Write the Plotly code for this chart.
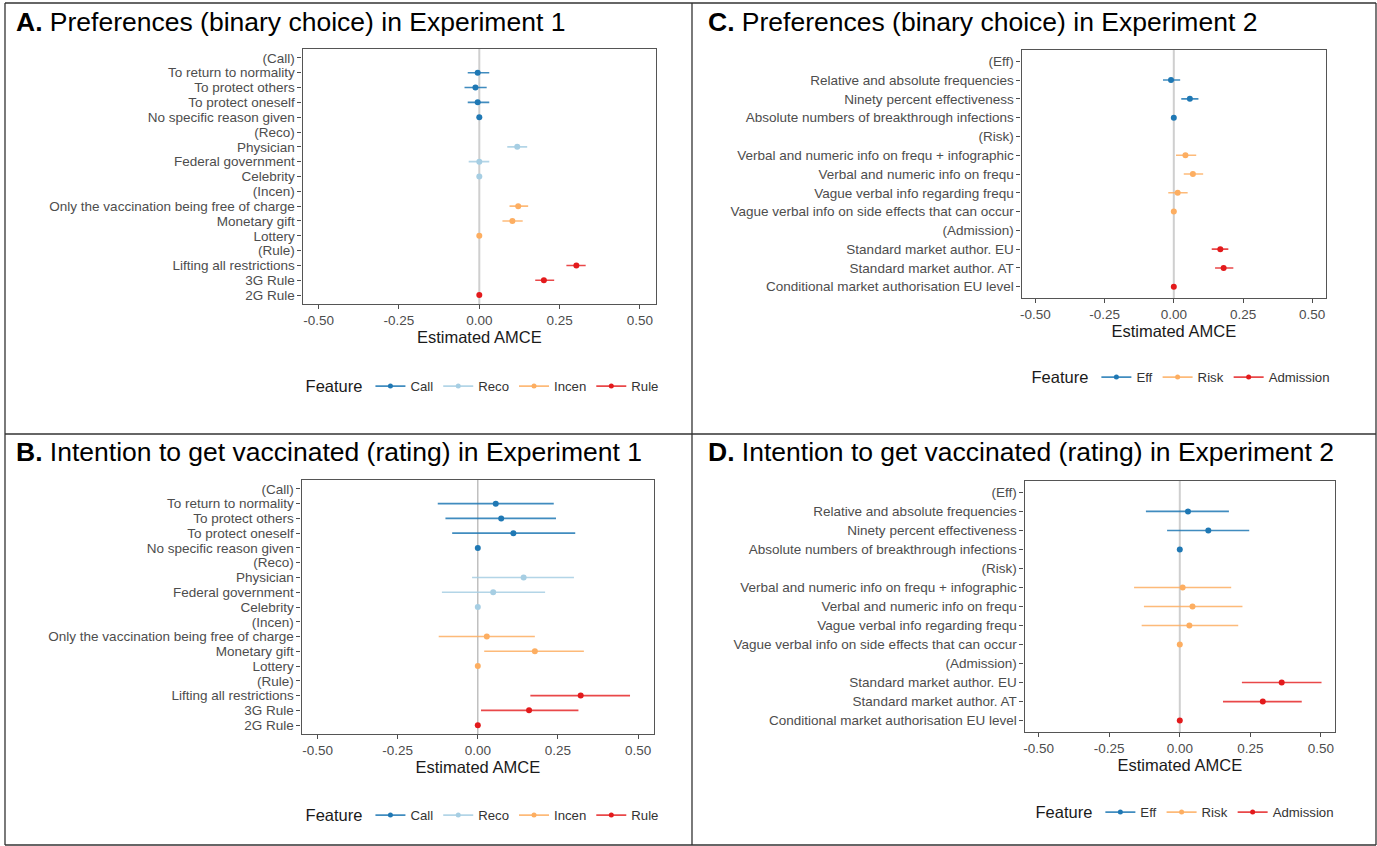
import plotly.graph_objects as go

W, H = 1377, 846

# ---------------- data ----------------
A_labels = ["(Call)", "To return to normality", "To protect others", "To protect oneself",
            "No specific reason given", "(Reco)", "Physician", "Federal government", "Celebrity",
            "(Incen)", "Only the vaccination being free of charge", "Monetary gift", "Lottery",
            "(Rule)", "Lifting all restrictions", "3G Rule", "2G Rule"]
A_feature = [None, "Call", "Call", "Call", "Call", None, "Reco", "Reco", "Reco",
             None, "Incen", "Incen", "Incen", None, "Rule", "Rule", "Rule"]
A_est = [None, -0.005, -0.012, -0.005, 0.0, None, 0.118, 0.0, 0.0,
         None, 0.121, 0.103, 0.0, None, 0.302, 0.201, 0.0]
A_lo = [None, -0.036, -0.046, -0.036, 0.0, None, 0.087, -0.033, 0.0,
        None, 0.094, 0.072, 0.0, None, 0.271, 0.174, 0.0]
A_hi = [None, 0.031, 0.023, 0.031, 0.0, None, 0.149, 0.031, 0.0,
        None, 0.152, 0.135, 0.0, None, 0.331, 0.233, 0.0]

B_labels = A_labels
B_feature = A_feature
B_est = [None, 0.056, 0.073, 0.111, 0.0, None, 0.143, 0.048, 0.0,
         None, 0.028, 0.178, 0.0, None, 0.321, 0.160, 0.0]
B_lo = [None, -0.125, -0.101, -0.080, 0.0, None, -0.018, -0.112, 0.0,
        None, -0.122, 0.020, 0.0, None, 0.164, 0.010, 0.0]
B_hi = [None, 0.237, 0.244, 0.304, 0.0, None, 0.300, 0.210, 0.0,
        None, 0.178, 0.331, 0.0, None, 0.475, 0.314, 0.0]

C_labels = ["(Eff)", "Relative and absolute frequencies", "Ninety percent effectiveness",
            "Absolute numbers of breakthrough infections", "(Risk)",
            "Verbal and numeric info on frequ + infographic", "Verbal and numeric info on frequ",
            "Vague verbal info regarding frequ", "Vague verbal info on side effects that can occur",
            "(Admission)", "Standard market author. EU", "Standard market author. AT",
            "Conditional market authorisation EU level"]
C_feature = [None, "Eff", "Eff", "Eff", None, "Risk", "Risk", "Risk", "Risk",
             None, "Admission", "Admission", "Admission"]
C_est = [None, -0.010, 0.058, 0.0, None, 0.042, 0.069, 0.014, 0.0, None, 0.168, 0.180, 0.0]
C_lo = [None, -0.039, 0.027, 0.0, None, 0.008, 0.036, -0.020, 0.0, None, 0.137, 0.149, 0.0]
C_hi = [None, 0.023, 0.089, 0.0, None, 0.081, 0.106, 0.050, 0.0, None, 0.197, 0.215, 0.0]

D_labels = C_labels
D_feature = C_feature
D_est = [None, 0.029, 0.101, 0.0, None, 0.010, 0.045, 0.034, 0.0, None, 0.361, 0.294, 0.0]
D_lo = [None, -0.120, -0.045, 0.0, None, -0.162, -0.127, -0.135, 0.0, None, 0.220, 0.153, 0.0]
D_hi = [None, 0.174, 0.246, 0.0, None, 0.182, 0.222, 0.207, 0.0, None, 0.502, 0.432, 0.0]

x_ticks = [-0.50, -0.25, 0.00, 0.25, 0.50]
x_ticktext = ["-0.50", "-0.25", "0.00", "0.25", "0.50"]

titles = [("A.", "Preferences (binary choice) in Experiment 1"),
          ("B.", "Intention to get vaccinated (rating) in Experiment 1"),
          ("C.", "Preferences (binary choice) in Experiment 2"),
          ("D.", "Intention to get vaccinated (rating) in Experiment 2")]

colors = {"Call": "#1F78B4", "Reco": "#A6CEE3", "Incen": "#FDAE61", "Rule": "#E31A1C",
          "Eff": "#1F78B4", "Risk": "#FDAE61", "Admission": "#E31A1C"}
err_colors = {"Call": "rgba(31,120,180,0.85)", "Reco": "rgba(166,206,227,0.85)",
              "Incen": "rgba(253,174,97,0.85)", "Rule": "rgba(227,26,28,0.8)",
              "Eff": "rgba(31,120,180,0.85)", "Risk": "rgba(253,174,97,0.85)",
              "Admission": "rgba(227,26,28,0.8)"}

# ---------------- layout geometry (pixels) ----------------
panels = [
    dict(labels=A_labels, feat=A_feature, est=A_est, lo=A_lo, hi=A_hi,
         order=["Call", "Reco", "Incen", "Rule"],
         box=(301, 655, 49, 304), title_xy=(12, 22), legend_xy=(302, 387), zl=(2.0, "#CFCFCF")),
    dict(labels=B_labels, feat=B_feature, est=B_est, lo=B_lo, hi=B_hi,
         order=["Call", "Reco", "Incen", "Rule"],
         box=(300, 653, 480, 734), title_xy=(12, 452), legend_xy=(302, 816), zl=(1.2, "#B0B0B0")),
    dict(labels=C_labels, feat=C_feature, est=C_est, lo=C_lo, hi=C_hi,
         order=["Eff", "Risk", "Admission"],
         box=(1021, 1326, 50, 298), title_xy=(705, 22), legend_xy=(1029, 378), zl=(2.0, "#CFCFCF")),
    dict(labels=D_labels, feat=D_feature, est=D_est, lo=D_lo, hi=D_hi,
         order=["Eff", "Risk", "Admission"],
         box=(1024, 1335, 481, 732), title_xy=(705, 452), legend_xy=(1033, 813), zl=(2.0, "#CFCFCF")),
]

FONT = "Liberation Sans, Arial, sans-serif"
fig = go.Figure()
layout = dict(width=W, height=H, margin=dict(l=0, r=0, t=0, b=0),
              paper_bgcolor="white", plot_bgcolor="white", showlegend=True,
              font=dict(family=FONT, color="#4D4D4D"))
shapes = []
annotations = []

for i, p in enumerate(panels):
    k = i + 1
    xa = "x" if k == 1 else f"x{k}"
    ya = "y" if k == 1 else f"y{k}"
    leg = "legend" if k == 1 else f"legend{k}"
    x0, x1, y0, y1 = p["box"]
    n = len(p["labels"])
    for f in p["order"]:
        idx = [j for j in range(n) if p["feat"][j] == f]
        ex = [p["est"][j] for j in idx]
        plus = [p["hi"][j] - p["est"][j] for j in idx]
        minus = [p["est"][j] - p["lo"][j] for j in idx]
        fig.add_trace(go.Scatter(
            x=ex, y=idx, xaxis=xa, yaxis=ya, mode="markers",
            marker=dict(color=colors[f], size=6),
            error_x=dict(type="data", symmetric=False, array=plus, arrayminus=minus,
                         width=0, thickness=1.6, color=err_colors[f]),
            showlegend=False, hoverinfo="skip"))
        # legend entry
        fig.add_trace(go.Scatter(
            x=[None], y=[None], xaxis=xa, yaxis=ya, mode="lines+markers", name=f,
            line=dict(color=err_colors[f], width=1.6), marker=dict(color=colors[f], size=5),
            legend=leg, showlegend=True))
    layout["xaxis" if k == 1 else f"xaxis{k}"] = dict(
        domain=[x0 / W, x1 / W], anchor=ya, range=[-0.55, 0.55],
        tickmode="array", tickvals=x_ticks, ticktext=x_ticktext,
        ticks="outside", ticklen=4, tickcolor="#4D4D4D", tickwidth=1,
        tickfont=dict(size=13.5, color="#4D4D4D"),
        showgrid=False, zeroline=False, showline=True, mirror=True,
        linecolor="#555555", linewidth=1.2,
        title=dict(text="Estimated AMCE", font=dict(size=16.5, color="#1A1A1A"), standoff=2))
    layout["yaxis" if k == 1 else f"yaxis{k}"] = dict(
        domain=[1 - y1 / H, 1 - y0 / H], anchor=xa, range=[n - 0.4, -0.6],
        tickmode="array", tickvals=list(range(n)), ticktext=p["labels"],
        ticks="outside", ticklen=4, tickcolor="#4D4D4D", tickwidth=1,
        tickfont=dict(size=13.5, color="#4D4D4D"),
        showgrid=False, zeroline=False, showline=True, mirror=True,
        linecolor="#555555", linewidth=1.2)
    lx, ly = p["legend_xy"]
    layout[leg] = dict(orientation="h", x=lx / W, y=1 - ly / H, xanchor="left", yanchor="middle",
                       xref="paper", yref="paper",
                       title=dict(text="Feature", font=dict(size=16.5, color="#1A1A1A"), side="left"),
                       font=dict(size=13.2, color="#333333"), bgcolor="rgba(0,0,0,0)",
                       itemwidth=30, tracegroupgap=0)
    lw, lc = p["zl"]
    shapes.append(dict(type="line", xref=xa, yref=f"{ya} domain", x0=0, x1=0, y0=0, y1=1,
                       line=dict(color=lc, width=lw), layer="below"))
    tx, ty = p["title_xy"]
    b, t = titles[i]
    annotations.append(dict(text=f"<b>{b}</b> {t}", xref="paper", yref="paper",
                            x=tx / W, y=1 - ty / H, xanchor="left", yanchor="middle",
                            showarrow=False, font=dict(size=26.5, color="#000000", family=FONT)))

# panel frame lines
def px_line(xa0, ya0, xa1, ya1):
    return dict(type="line", xref="paper", yref="paper", x0=xa0 / W, y0=1 - ya0 / H,
                x1=xa1 / W, y1=1 - ya1 / H, line=dict(color="#333333", width=1.3))

shapes += [px_line(3, 3, 1376, 3), px_line(3, 845, 1376, 845), px_line(3, 3, 3, 845),
           px_line(1376, 3, 1376, 845), px_line(691, 3, 691, 845), px_line(3, 434, 1376, 434)]

layout["shapes"] = shapes
layout["annotations"] = annotations
fig.update_layout(**layout)
fig.write_html("out.html", config={"displayModeBar": False},
               post_script="document.body.style.margin='0px';document.body.style.overflow='hidden';")
